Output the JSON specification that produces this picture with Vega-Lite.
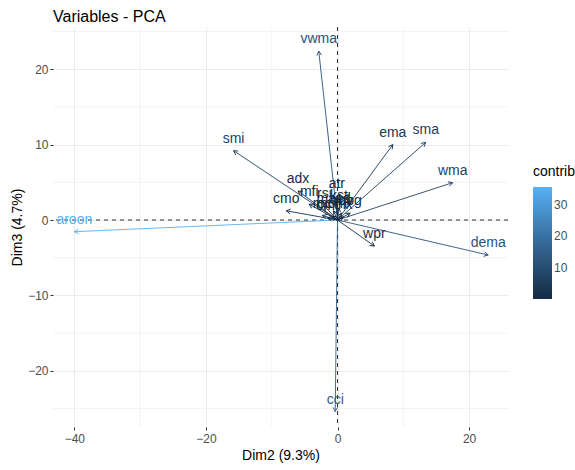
{
  "$schema": "https://vega.github.io/schema/vega-lite/v6.json",
  "width": 455,
  "height": 400,
  "autosize": "none",
  "padding": {"left": 53, "top": 27, "right": 67, "bottom": 43},
  "config": {
    "font": "Liberation Sans",
    "view": {"stroke": null},
    "axis": {"domain": false}
  },
  "title": {"text": "Variables - PCA", "anchor": "start", "fontSize": 16, "fontWeight": "normal", "color": "#000000", "offset": 2, "frame": "group"},
  "datasets": {
    "vars": [
      {"name": "aroon", "x": -40.0, "y": -1.55, "contrib": 35.6},
      {"name": "vwma", "x": -2.85, "y": 22.4, "contrib": 11.2},
      {"name": "cci", "x": -0.35, "y": -25.4, "contrib": 14.0},
      {"name": "smi", "x": -15.8, "y": 9.2, "contrib": 7.3},
      {"name": "ema", "x": 8.4, "y": 10.0, "contrib": 3.7},
      {"name": "sma", "x": 13.4, "y": 10.3, "contrib": 6.2},
      {"name": "wma", "x": 17.5, "y": 4.95, "contrib": 7.2},
      {"name": "dema", "x": 22.9, "y": -4.64, "contrib": 12.0},
      {"name": "wpr", "x": 5.6, "y": -3.45, "contrib": 0.9},
      {"name": "adx", "x": -6.0, "y": 3.85, "contrib": 1.1},
      {"name": "cmo", "x": -7.8, "y": 1.23, "contrib": 1.3},
      {"name": "mfi", "x": -4.3, "y": 2.1, "contrib": 0.5},
      {"name": "rsi", "x": -2.0, "y": 1.86, "contrib": 0.2},
      {"name": "atr", "x": -0.1, "y": 3.2, "contrib": 0.25},
      {"name": "macd", "x": -0.6, "y": 1.2, "contrib": 0.05},
      {"name": "roc", "x": -2.3, "y": 0.6, "contrib": 0.1},
      {"name": "mom", "x": -0.9, "y": 0.5, "contrib": 0.05},
      {"name": "obv", "x": 0.6, "y": 0.9, "contrib": 0.05},
      {"name": "kst", "x": 0.2, "y": 1.6, "contrib": 0.05},
      {"name": "trix", "x": 0.9, "y": 0.4, "contrib": 0.05},
      {"name": "cmf", "x": -1.5, "y": 0.3, "contrib": 0.05},
      {"name": "bbg", "x": 1.9, "y": 0.9, "contrib": 0.08}
    ],
    "zero": [{"v": 0}],
    "minorX": [{"v": -30}, {"v": -10}, {"v": 10}],
    "minorY": [{"v": -25}, {"v": -15}, {"v": -5}, {"v": 5}, {"v": 15}, {"v": 25}]
  },
  "layer": [
    {
      "data": {"name": "vars"},
      "mark": {"type": "point", "filled": true, "opacity": 0, "size": 0},
      "encoding": {
        "x": {"field": "x", "type": "quantitative",
          "scale": {"domain": [-43.24, 25.91], "nice": false, "zero": false},
          "axis": {
            "grid": true, "labelOverlap": false,
            "values": [-40, -20, 0, 20],
            "title": "Dim2 (9.3%)", "titleFontSize": 14, "titleFontWeight": "normal", "titleColor": "#000000", "titlePadding": 4,
            "labelFontSize": 12, "labelColor": "#4D4D4D", "labelPadding": 3,
            "tickSize": 3, "tickColor": "#333333", "gridColor": "#EBEBEB"
          }
        },
        "y": {"field": "y", "type": "quantitative",
          "scale": {"domain": [-27.45, 25.6], "nice": false, "zero": false},
          "axis": {
            "grid": true, "labelOverlap": false,
            "values": [-20, -10, 0, 10, 20],
            "title": "Dim3 (4.7%)", "titleFontSize": 14, "titleFontWeight": "normal", "titleColor": "#000000", "titlePadding": 3,
            "labelFontSize": 12, "labelColor": "#4D4D4D", "labelPadding": 2,
            "tickSize": 3, "tickColor": "#333333", "gridColor": "#EBEBEB"
          }
        }
      }
    },
    {
      "data": {"name": "minorX"},
      "mark": {"type": "rule", "color": "#EEEEEE", "strokeWidth": 0.7},
      "encoding": {"x": {"field": "v", "type": "quantitative"}}
    },
    {
      "data": {"name": "minorY"},
      "mark": {"type": "rule", "color": "#EEEEEE", "strokeWidth": 0.7},
      "encoding": {"y": {"field": "v", "type": "quantitative"}}
    },
    {
      "data": {"name": "zero"},
      "mark": {"type": "rule", "color": "#000000", "strokeDash": [4, 4], "strokeWidth": 0.8},
      "encoding": {"x": {"field": "v", "type": "quantitative"}}
    },
    {
      "data": {"name": "zero"},
      "mark": {"type": "rule", "color": "#000000", "strokeDash": [4, 4], "strokeWidth": 0.8},
      "encoding": {"y": {"field": "v", "type": "quantitative"}}
    },
    {
      "data": {"name": "vars"},
      "mark": {"type": "rule", "strokeWidth": 0.9},
      "encoding": {
        "x": {"field": "x", "type": "quantitative"},
        "y": {"field": "y", "type": "quantitative"},
        "x2": {"datum": 0},
        "y2": {"datum": 0},
        "stroke": {"field": "contrib", "type": "quantitative",
          "scale": {"type": "linear", "domain": [0.05, 35.6], "range": ["#132B43", "#56B1F7"]},
          "legend": null}
      }
    },
    {
      "data": {"name": "vars"},
      "transform": [
        {"calculate": "atan2(6.58 * datum.x, 7.54 * datum.y) * 180 / PI", "as": "ang"}
      ],
      "mark": {"type": "point", "shape": "M -0.55 1 L 0 0 L 0.55 1", "filled": false, "strokeWidth": 0.9, "opacity": 1},
      "encoding": {
        "x": {"field": "x", "type": "quantitative"},
        "y": {"field": "y", "type": "quantitative"},
        "angle": {"field": "ang", "type": "quantitative", "scale": null},
        "size": {"value": 70},
        "stroke": {"field": "contrib", "type": "quantitative", "legend": null}
      }
    },
    {
      "data": {"name": "vars"},
      "mark": {"type": "text", "fontSize": 14, "dy": -12, "baseline": "middle"},
      "encoding": {
        "x": {"field": "x", "type": "quantitative"},
        "y": {"field": "y", "type": "quantitative"},
        "text": {"field": "name"},
        "fill": {"field": "contrib", "type": "quantitative",
          "scale": {"type": "linear", "domain": [0, 35.6], "range": ["#132B43", "#56B1F7"]},
          "legend": {"type": "gradient", "title": "contrib", "titleFontSize": 14, "titleFontWeight": "normal", "titleColor": "#000000",
            "values": [10, 20, 30], "labelFontSize": 12, "labelColor": "#4D4D4D",
            "gradientLength": 112, "gradientThickness": 19, "orient": "none", "legendX": 480, "legendY": 138,
            "titlePadding": 8}
        }
      }
    }
  ]
}
